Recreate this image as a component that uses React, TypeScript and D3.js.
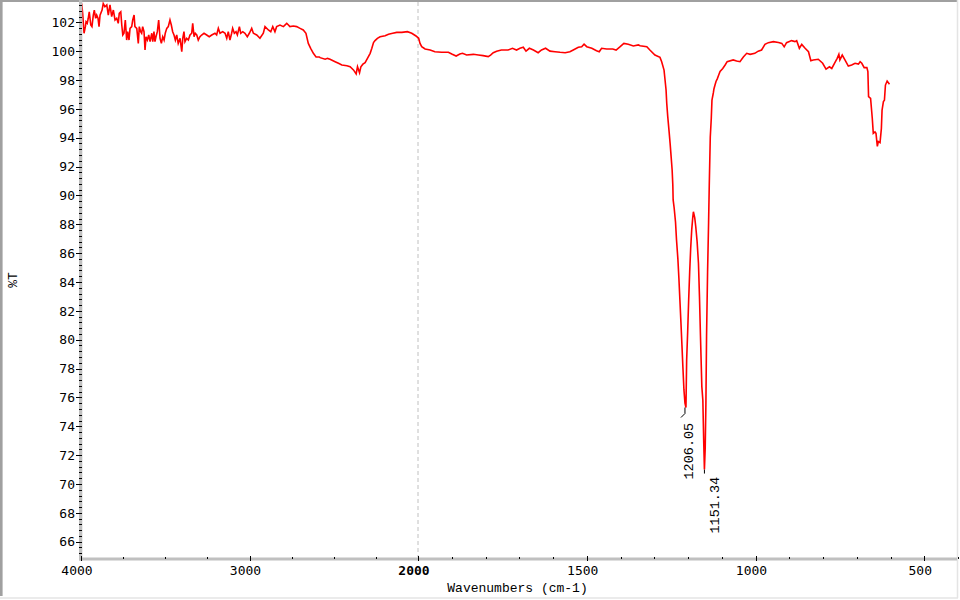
import React from 'react';
import * as d3 from 'd3';

// Spectrum values: [wavenumber (cm-1), %T]
const noisyRegion: [number, number][] = [
  [3996,103.3],[3990,102.6],[3982,101.24],[3974,101.7],[3970,102.04],[3963,101.93],[3957,102.28],[3951,102.73],
  [3942,101.81],[3935,101.7],[3927,102.5],[3921,102.85],[3913,102.28],[3907,102.5],[3899,102.28],[3893,101.7],
  [3887,102.5],[3875,102.85],[3868,103.3],[3858,103.08],[3847,103.2],[3838,102.5],[3828,103.2],[3818,102.39],
  [3808,102.85],[3798,102.16],[3788,102.28],[3779,101.93],[3773,102.62],[3764,102.73],[3758,101.81],[3752,101.12],
  [3745,101.24],[3737,102.16],[3729,100.77],[3723,101.35],[3715,100.77],[3709,101.58],[3699,101.7],[3693,102.16],
  [3685,102.5],[3680,101.7],[3669,101.58],[3660,100.54],[3654,101.7],[3646,101.35],[3640,101.24],[3634,101.7],
  [3626,101.35],[3620,100.08],[3614,101.0],[3606,100.77],[3598,101.12],[3590,100.66],[3580,101.24],[3574,100.66],
  [3567,101.35],[3561,100.66],[3555,101.0],[3547,101.35],[3539,102.16],[3531,100.89],[3523,100.54],[3515,101.0],
  [3507,100.77],[3500,101.24],[3491,101.58],[3482,101.7],[3472,102.16],[3464,101.81],[3456,101.35],[3448,101.12],
  [3440,100.77],[3432,101.12],[3423,100.54],[3412,100.89],[3402,99.96],[3396,100.89],[3389,101.35],[3383,100.66],
  [3373,100.89],[3363,100.77],[3353,101.12],[3343,101.24],[3337,101.93],[3329,101.0],[3322,101.24],[3313,101.12],
  [3304,100.77],[3294,101.0],[3284,101.12],[3270,101.24],[3254,101.12],[3239,101.0],[3224,101.12],[3205,101.24],
  [3195,101.12],[3185,101.58],[3175,101.24],[3159,101.35],[3145,101.24],[3135,100.89],[3126,101.35],[3116,100.77],
  [3106,101.24],[3100,101.58],[3090,101.24],[3080,101.35],[3072,101.12],[3060,101.7],[3052,101.24],[3040,101.35],
  [3027,101.24],[3013,101.0],[3001,101.24],[2987,101.58],[2977,101.24],[2957,101.12],[2938,100.89],[2918,101.24],
  [2908,101.7],[2888,101.47],[2874,101.35],[2862,101.7],[2849,101.35],[2839,101.7],[2819,101.81],[2799,101.7],
  [2779,101.93],[2760,101.7],[2740,101.74],[2720,101.7],[2700,101.58],[2681,101.47],[2665,101.24],[2651,100.54],
  [2637,100.2],[2621,99.85],[2605,99.6],[2586,99.6],
];

const midRegion: [number, number][] = [
  [2581,99.55],[2551,99.44],[2537,99.5],[2522,99.44],[2492,99.27],[2472,99.16],[2452,99.04],[2422,98.99],
  [2403,98.92],[2383,98.7],[2367,98.42],[2359,98.92],[2347,98.5],[2339,98.92],[2327,99.1],[2314,99.2],
  [2300,99.5],[2284,99.85],[2274,100.2],[2264,100.59],[2255,100.73],[2241,100.89],[2225,101.0],[2195,101.07],
  [2175,101.17],[2150,101.24],[2126,101.3],[2096,101.3],[2063,101.35],[2037,101.24],[2012,101.05],[1998,100.89],
  [1994,100.54],[1989,100.31],[1979,100.15],[1964,100.08],[1950,99.96],[1930,99.92],[1910,99.92],[1900,99.8],
  [1887,99.66],[1876,99.8],[1868,99.85],[1856,99.73],[1836,99.78],[1821,99.73],[1807,99.69],[1792,99.62],
  [1785,99.73],[1777,99.89],[1767,100.0],[1753,100.08],[1733,100.08],[1720,100.2],[1708,100.08],[1698,100.2],
  [1688,100.27],[1680,100.0],[1670,100.2],[1658,100.08],[1644,99.89],[1634,100.08],[1622,100.2],[1609,100.0],
  [1594,99.96],[1579,99.92],[1564,99.89],[1550,99.96],[1540,100.08],[1525,100.27],[1515,100.31],[1508,100.48],
  [1500,100.31],[1485,100.2],[1471,100.03],[1463,99.96],[1456,100.2],[1441,100.15],[1423,100.15],[1413,100.08],
  [1401,100.31],[1390,100.54],[1377,100.48],[1362,100.36],[1347,100.43],
];

const fingerprintRegion: [number, number][] = [
  [1342,100.38],[1322,100.31],[1313,100.08],[1298,99.73],[1283,99.57],[1278,99.27],[1271,98.69],[1268,98.0],
  [1265,97.31],[1263,96.39],[1260,95.46],[1256,94.42],[1253,93.61],[1250,92.69],[1247,91.76],[1245,90.73],
  [1244,89.69],[1241,89.13],[1237,88.16],[1234,86.91],[1230,85.6],[1227,84.28],[1224,82.75],[1221,81.23],
  [1218,79.64],[1215,78.04],[1212,76.52],[1209,75.6],[1206.05,75.3],[1204,78.6],[1201,80.54],[1198,82.76],
  [1195,84.7],[1192,86.36],[1189,87.61],[1186,88.44],[1184,88.87],[1180,88.44],[1177,87.83],[1173,86.8],
  [1169,85.3],[1166,83.0],[1163,80.2],[1159,76.75],[1156,75.8],[1153.5,73.0],[1151.34,71.0],[1149,72.5],
  [1147,75.5],[1145,80.3],[1142,84.7],[1139,88.1],[1137,90.7],[1134,94.05],[1131,95.35],[1129,96.6],
  [1125,97.1],[1123,97.4],[1120,97.65],[1117,97.9],[1113,98.1],[1109,98.35],[1105,98.6],[1097,98.8],
  [1090,99.04],[1084,99.27],[1066,99.39],[1056,99.32],[1046,99.27],[1036,99.6],[1026,99.85],[1016,99.78],
  [1002,99.85],[992,100.0],[982,100.08],[972,100.47],[962,100.59],[947,100.66],[932,100.6],[922,100.54],
  [915,100.3],[908,100.59],[893,100.73],[883,100.66],[878,100.73],[870,100.2],[863,100.47],[853,100.2],
  [843,99.96],[836,99.34],[829,99.39],[814,99.44],[801,99.16],[791,98.76],[781,98.92],[774,98.8],
  [766,99.16],[758,99.5],[753,99.78],[750,99.39],[743,99.73],[735,99.39],[725,98.97],[715,99.04],
  [705,99.16],[695,99.1],[690,99.27],[685,99.16],[678,98.86],[670,98.86],[667,98.58],[665,96.85],
  [659,96.73],[654,95.35],[651,94.3],[646,94.4],[643,94.3],[639,93.4],[636,93.73],[631,93.66],
  [627,94.65],[625,95.92],[621,96.5],[618,96.6],[615,97.65],[610,97.93],[603,97.7],
];

const peakWavenumbers = [1206.05, 1151.34];
const peakTransmittance = [75.3, 71.0];
const peakLabels = ['1206.05', '1151.34'];

const xTickValues = [4000, 3000, 2000, 1500, 1000, 500];
const yTickValues = [66, 68, 70, 72, 74, 76, 78, 80, 82, 84, 86, 88, 90, 92, 94, 96, 98, 100, 102];

const xAxisTitle = 'Wavenumbers (cm-1)';
const yAxisTitle = '%T';

export default function App() {
  const W = 960;
  const H = 600;
  const axisX = 79;
  const axisY = 557.5;

  const x = d3.scaleLinear().domain([4000, 2000, 400]).range([81, 418, 958]);
  const y = d3.scaleLinear().domain([66, 102]).range([541.7, 22.3]);

  const data = [...noisyRegion, ...midRegion, ...fingerprintRegion];
  const line = d3.line<[number, number]>().x(d => x(d[0])).y(d => y(d[1]));

  const xMinor = [...d3.range(4000, 2000, -250), ...d3.range(2000, 399, -100)];
  const yMinor: number[] = [];
  for (let k = -5; k < 100; k++) {
    const v = 66 + 0.4 * k;
    const py = y(v);
    if (py >= 0 && py <= axisY) yMinor.push(v);
  }

  const numFont = '"DejaVu Sans Mono", monospace';
  const titleFont = '"Liberation Mono", "DejaVu Sans Mono", monospace';

  // label placement (style/offsets, not data)
  const labelDx = [7.3, 15];
  const labelDy = [72, 64];

  return (
    <svg width={W} height={H} style={{ position: 'absolute', left: 0, top: 0, background: '#fff' }}>
      <rect x={0} y={0} width={W} height={H} fill="#fff" />
      {/* frame */}
      <line x1={0} y1={1} x2={957} y2={1} stroke="#a0a0a0" strokeWidth={2} />
      <line x1={1.3} y1={0} x2={1.3} y2={596} stroke="#a0a0a0" strokeWidth={2.6} />
      <line x1={957.5} y1={0} x2={957.5} y2={598} stroke="#e4e4e4" strokeWidth={1.5} />
      <line x1={0} y1={598} x2={958} y2={598} stroke="#e4e4e4" strokeWidth={1.5} />

      {/* dashed 2000 line */}
      <line x1={x(2000)} y1={2} x2={x(2000)} y2={axisY} stroke="#c0c0c0" strokeWidth={1} strokeDasharray="4,3" />

      {/* spectrum */}
      <path d={line(data) || ''} fill="none" stroke="#ff0000" strokeWidth={1.6} strokeLinejoin="miter" />

      {/* axes bands */}
      <rect x={axisX} y={axisY} width={957 - axisX} height={3} fill="#c0c0c0" />
      <rect x={axisX} y={0} width={3.3} height={axisY + 3} fill="#c0c0c0" />

      {/* y ticks */}
      <g shapeRendering="crispEdges">
        {yMinor.map((v, i) => (
          <line key={'ym' + i} x1={79} x2={81.7} y1={Math.round(y(v)) + 0.5} y2={Math.round(y(v)) + 0.5} stroke="#000" strokeWidth={1} />
        ))}
        {yTickValues.map(v => (
          <line key={'yM' + v} x1={76} x2={81.7} y1={Math.round(y(v)) + 0.5} y2={Math.round(y(v)) + 0.5} stroke="#000" strokeWidth={1} />
        ))}
        {xMinor.map((v, i) => (
          <line key={'xm' + i} x1={Math.round(x(v)) + 0.5} x2={Math.round(x(v)) + 0.5} y1={556.5} y2={559} stroke="#000" strokeWidth={1} />
        ))}
        {xTickValues.map(v => (
          <line key={'xM' + v} x1={Math.round(x(v)) + 0.5} x2={Math.round(x(v)) + 0.5} y1={556} y2={561} stroke="#000" strokeWidth={1} />
        ))}
      </g>

      {/* y tick labels */}
      {yTickValues.map(v => (
        <text key={'yl' + v} x={75} y={y(v)} dy="0.36em" textAnchor="end" fontFamily={numFont} fontSize={13} fill="#000">
          {v}
        </text>
      ))}

      {/* x tick labels */}
      {xTickValues.map(v => (
        <text key={'xl' + v} x={x(v) - 4} y={575} textAnchor="middle" fontFamily={numFont} fontSize={13}
          fontWeight={v === 2000 ? 'bold' : 'normal'} fill="#000">
          {v}
        </text>
      ))}

      {/* axis titles */}
      <text x={517.5} y={592} textAnchor="middle" fontFamily={titleFont} fontSize={13} fill="#000">{xAxisTitle}</text>
      <text transform="translate(16.5,280) rotate(-90)" textAnchor="middle" fontFamily={titleFont} fontSize={13} fill="#000">{yAxisTitle}</text>

      {/* peak annotations */}
      {peakWavenumbers.map((wn, i) => {
        const px = x(wn);
        const py = y(peakTransmittance[i]);
        const leader = i === 0
          ? `M${px - 1},${py} L${px - 1},${py + 6} L${px - 5},${py + 10}`
          : `M${px},${py} L${px},${py + 4}`;
        return (
          <g key={'pk' + i}>
            <path d={leader} fill="none" stroke="#000" strokeWidth={1} />
            <text transform={`translate(${px + labelDx[i]},${py + labelDy[i]}) rotate(-90)`} textAnchor="start"
              fontFamily={titleFont} fontSize={13.5} fill="#000">
              {peakLabels[i]}
            </text>
          </g>
        );
      })}
    </svg>
  );
}
